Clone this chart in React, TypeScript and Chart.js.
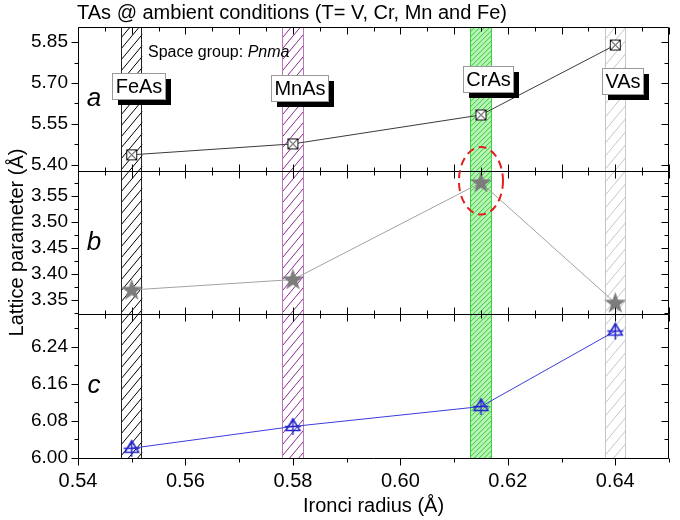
import React, { useEffect, useRef } from 'react';
import { Chart, registerables } from 'chart.js';

Chart.register(...registerables);

const FONT = '"Liberation Sans", Arial, sans-serif';

// ---- data ----
const compounds = ['FeAs', 'MnAs', 'CrAs', 'VAs'];
const ionicRadius = [0.55, 0.58, 0.615, 0.64];
const latticeA = [5.437, 5.477, 5.583, 5.839];
const latticeB = [3.369, 3.389, 3.576, 3.344];
const latticeC = [6.021, 6.068, 6.111, 6.274];

// ---- tick labels ----
const xTicks = [0.54, 0.56, 0.58, 0.6, 0.62, 0.64];
const aTicks = [5.4, 5.55, 5.7, 5.85];
const bTicks = [3.35, 3.4, 3.45, 3.5, 3.55];
const cTicks = [6.0, 6.08, 6.16, 6.24];

// ---- annotations ----
const labelLevelA = [5.689, 5.68, 5.716, 5.709];
const bandHalfWidth = 0.002;
const highlightX = 0.615;
const highlightY = 3.5794;
const highlightRx = 0.0041;
const highlightRy = 0.065;

const bandStyles = [
  { line: '#000000', edge: '#222222', fill: '', gap: 11, slope: 1.2 },
  { line: '#8a2a8a', edge: '#b877b8', fill: '', gap: 11, slope: 1.2 },
  { line: '#36c836', edge: '#3cd03c', fill: '#b8f4b8', gap: 5, slope: 1.0 },
  { line: '#c6c6c6', edge: '#c6c6c6', fill: '', gap: 13, slope: 1.2 },
];

function makeCanvas(w: number, h: number, draw: (c: CanvasRenderingContext2D) => void) {
  const cv = document.createElement('canvas');
  cv.width = w;
  cv.height = h;
  const c = cv.getContext('2d')!;
  draw(c);
  return cv;
}

const crossSquare = makeCanvas(13, 13, (c) => {
  c.fillStyle = '#fff';
  c.fillRect(1, 1, 11, 11);
  c.strokeStyle = '#111';
  c.lineWidth = 1;
  c.strokeRect(1.5, 1.5, 10, 10);
  c.beginPath();
  c.moveTo(1.5, 1.5);
  c.lineTo(11.5, 11.5);
  c.moveTo(11.5, 1.5);
  c.lineTo(1.5, 11.5);
  c.stroke();
});

const filledStar = makeCanvas(25, 25, (c) => {
  c.fillStyle = '#7c7c7c';
  c.beginPath();
  const R = 11.5, r = 4.6, cx = 12.5, cy = 13;
  for (let i = 0; i < 10; i++) {
    const ang = -Math.PI / 2 + (i * Math.PI) / 5;
    const rad = i % 2 === 0 ? R : r;
    const px = cx + rad * Math.cos(ang);
    const py = cy + rad * Math.sin(ang);
    if (i === 0) c.moveTo(px, py);
    else c.lineTo(px, py);
  }
  c.closePath();
  c.fill();
});

const triCross = makeCanvas(21, 21, (c) => {
  c.strokeStyle = '#2424cc';
  c.lineWidth = 1.5;
  c.beginPath();
  c.moveTo(10.5, 3);
  c.lineTo(17.5, 14.5);
  c.lineTo(3.5, 14.5);
  c.closePath();
  c.stroke();
  c.beginPath();
  c.moveTo(10.5, 2.5);
  c.lineTo(10.5, 19);
  c.moveTo(2.5, 10.5);
  c.lineTo(18.5, 10.5);
  c.stroke();
});

const panelIds = ['ya', 'yb', 'yc'];
const panelTicks = [aTicks, bTicks, cTicks];

const decor = {
  id: 'decor',
  beforeDatasetsDraw(chart: any) {
    const { ctx, chartArea } = chart;
    const xs = chart.scales.x;
    const top = chartArea.top;
    const bot = chartArea.bottom;
    compounds.forEach((_, i) => {
      const st = bandStyles[i];
      const x0 = xs.getPixelForValue(ionicRadius[i] - bandHalfWidth);
      const x1 = xs.getPixelForValue(ionicRadius[i] + bandHalfWidth);
      const w = x1 - x0;
      ctx.save();
      ctx.beginPath();
      ctx.rect(x0, top, w, bot - top);
      ctx.clip();
      if (st.fill) {
        ctx.fillStyle = st.fill;
        ctx.fillRect(x0, top, w, bot - top);
      }
      ctx.strokeStyle = st.line;
      ctx.lineWidth = 1;
      ctx.beginPath();
      const rise = w * st.slope;
      for (let y = top; y < bot + rise; y += st.gap) {
        ctx.moveTo(x0, y);
        ctx.lineTo(x1, y - rise);
      }
      ctx.stroke();
      ctx.restore();
      ctx.save();
      ctx.strokeStyle = st.edge;
      ctx.lineWidth = 1;
      ctx.beginPath();
      ctx.moveTo(Math.round(x0) + 0.5, top);
      ctx.lineTo(Math.round(x0) + 0.5, bot);
      ctx.moveTo(Math.round(x1) - 0.5, top);
      ctx.lineTo(Math.round(x1) - 0.5, bot);
      ctx.stroke();
      ctx.restore();
    });
  },
  afterDatasetsDraw(chart: any) {
    const { ctx, chartArea } = chart;
    const xs = chart.scales.x;
    const L = Math.round(chartArea.left) + 0.5;
    const R = Math.round(chartArea.right) - 0.5;
    ctx.save();
    ctx.strokeStyle = '#000';
    ctx.lineWidth = 1;
    panelIds.forEach((id, k) => {
      const s = chart.scales[id];
      const T = Math.round(s.top) + 0.5;
      const B = Math.round(s.bottom) + 0.5;
      ctx.beginPath();
      ctx.rect(L, T, R - L, B - T);
      const tks = panelTicks[k];
      const step = tks[1] - tks[0];
      const half = step / 2;
      let v = tks[0] - half * Math.floor((tks[0] - s.min) / half + 1e-9);
      for (let n = 0; v <= s.max + 1e-9 && n < 100; n++, v += half) {
        if (v < s.min - 1e-9) continue;
        const isMajor = tks.some((t) => Math.abs(t - v) < step * 0.01);
        const len = isMajor ? 7 : 4;
        const py = Math.round(s.getPixelForValue(v)) + 0.5;
        ctx.moveTo(L - len, py);
        ctx.lineTo(L, py);
        ctx.moveTo(R, py);
        ctx.lineTo(R - len, py);
      }
      for (let i = 0; i <= 22; i++) {
        const xv = 0.54 + i * 0.005;
        const px = Math.round(xs.getPixelForValue(xv)) + 0.5;
        const len = i % 2 === 0 ? 7 : 4;
        ctx.moveTo(px, T);
        ctx.lineTo(px, T + len);
        if (k < 2) {
          ctx.moveTo(px, B);
          ctx.lineTo(px, B - len);
        }
      }
      if (k === 2) {
        for (let i = 0; i <= 11; i++) {
          const xv = 0.54 + i * 0.01;
          const px = Math.round(xs.getPixelForValue(xv)) + 0.5;
          const len = i % 2 === 0 ? 7 : 4;
          ctx.moveTo(px, B);
          ctx.lineTo(px, B + len);
        }
      }
      ctx.stroke();
    });
    ctx.restore();

    const ya = chart.scales.ya;
    ctx.save();
    ctx.font = `20px ${FONT}`;
    compounds.forEach((name, i) => {
      const cx = xs.getPixelForValue(ionicRadius[i]) + 7;
      const cy = ya.getPixelForValue(labelLevelA[i]);
      const tw = ctx.measureText(name).width;
      const bw = Math.round(tw + 6);
      const bh = 26;
      const bx = Math.round(cx - bw / 2);
      const by = Math.round(cy - bh / 2);
      ctx.fillStyle = '#000';
      ctx.fillRect(bx + 6, by + 6, bw, bh);
      ctx.fillStyle = '#fff';
      ctx.fillRect(bx, by, bw, bh);
      ctx.strokeStyle = '#9a9a9a';
      ctx.lineWidth = 1;
      ctx.strokeRect(bx + 0.5, by + 0.5, bw, bh);
      ctx.fillStyle = '#000';
      ctx.textAlign = 'center';
      ctx.textBaseline = 'middle';
      ctx.fillText(name, bx + bw / 2 + 0.5, by + bh / 2 + 1);
    });
    ctx.restore();

    const yb = chart.scales.yb;
    const ecx = xs.getPixelForValue(highlightX);
    const ecy = yb.getPixelForValue(highlightY);
    const erx = xs.getPixelForValue(highlightX + highlightRx) - ecx;
    const ery = yb.getPixelForValue(highlightY - highlightRy) - ecy;
    ctx.save();
    ctx.strokeStyle = '#e01e1e';
    ctx.lineWidth = 2;
    ctx.setLineDash([8, 5]);
    ctx.beginPath();
    ctx.ellipse(ecx, ecy, Math.abs(erx), Math.abs(ery), 0, 0, Math.PI * 2);
    ctx.stroke();
    ctx.restore();
  },
  afterDraw(chart: any) {
    const { ctx, chartArea } = chart;
    const L = chartArea.left;
    ctx.save();
    ctx.fillStyle = '#000';
    ctx.textAlign = 'left';
    ctx.textBaseline = 'alphabetic';
    ctx.font = `20px ${FONT}`;
    ctx.fillText('TAs @ ambient conditions (T= V, Cr, Mn and Fe)', L - 1, 19);

    const ya = chart.scales.ya;
    ctx.font = `16px ${FONT}`;
    ctx.textBaseline = 'middle';
    const sg = 'Space group: ';
    const sx = L + 70;
    const sy = ya.top + 26;
    ctx.fillText(sg, sx, sy);
    const sw = ctx.measureText(sg).width;
    ctx.font = `italic 16px ${FONT}`;
    ctx.fillText('Pnma', sx + sw, sy);

    ctx.font = `italic 26px ${FONT}`;
    ctx.textAlign = 'center';
    ['a', 'b', 'c'].forEach((letter, k) => {
      const s = chart.scales[panelIds[k]];
      ctx.fillText(letter, L + 16, (s.top + s.bottom) / 2);
    });
    ctx.restore();
  },
};

function yScale(min: number, max: number, tks: number[], weight: number, title?: string) {
  return {
    type: 'linear',
    position: 'left',
    stack: 'panels',
    stackWeight: 1,
    weight,
    min,
    max,
    afterBuildTicks: (s: any) => {
      s.ticks = tks.map((v) => ({ value: v }));
    },
    afterFit: (s: any) => {
      s.width = 78;
    },
    ticks: {
      font: { size: 19, family: FONT },
      color: '#000',
      padding: 3,
      autoSkip: false,
      callback: (v: any) => Number(v).toFixed(2),
    },
    grid: { display: false, drawTicks: true, tickLength: 7 },
    border: { display: false },
    title: title
      ? {
          display: true,
          text: title,
          font: { size: 20, family: FONT },
          color: '#000',
          padding: { top: 5, bottom: 0 },
        }
      : { display: false },
  };
}

export default function App() {
  const ref = useRef<HTMLCanvasElement | null>(null);
  useEffect(() => {
    if (!ref.current) return;
    const mk = (ys: number[]) => ionicRadius.map((x, i) => ({ x, y: ys[i] }));
    const chart = new Chart(ref.current, {
      type: 'scatter',
      data: {
        datasets: [
          {
            data: mk(latticeA),
            yAxisID: 'ya',
            showLine: true,
            borderColor: '#3a3a3a',
            borderWidth: 1,
            pointStyle: crossSquare as any,
            pointRadius: 6,
          },
          {
            data: mk(latticeB),
            yAxisID: 'yb',
            showLine: true,
            borderColor: '#a2a2a2',
            borderWidth: 1,
            pointStyle: filledStar as any,
            pointRadius: 10,
          },
          {
            data: mk(latticeC),
            yAxisID: 'yc',
            showLine: true,
            borderColor: '#3c3cdc',
            borderWidth: 1,
            pointStyle: triCross as any,
            pointRadius: 9,
          },
        ],
      },
      options: {
        responsive: false,
        animation: false,
        devicePixelRatio: 1,
        layout: { padding: { left: 0, right: 3, top: 27, bottom: 0 } },
        plugins: { legend: { display: false }, tooltip: { enabled: false }, title: { display: false } },
        scales: {
          x: {
            type: 'linear',
            position: 'bottom',
            min: 0.54,
            max: 0.65,
            afterBuildTicks: (s: any) => {
              s.ticks = xTicks.map((v) => ({ value: v }));
            },
            afterFit: (s: any) => {
              s.height = 62;
            },
            ticks: {
              font: { size: 20, family: FONT },
              color: '#000',
              padding: 4,
              maxRotation: 0,
              autoSkip: false,
              callback: (v: any) => Number(v).toFixed(2),
            },
            grid: { display: false, drawTicks: true, tickLength: 7 },
            border: { display: false },
            title: {
              display: true,
              text: 'Ironci radius (Å)',
              font: { size: 20, family: FONT },
              color: '#000',
              padding: { top: 0, bottom: 2 },
            },
          },
          ya: yScale(5.379, 5.905, aTicks, 3),
          yb: yScale(3.322, 3.599, bTicks, 2, 'Lattice parameter (Å)'),
          yc: yScale(6.0, 6.31, cTicks, 1),
        } as any,
      },
      plugins: [decor],
    } as any);
    return () => chart.destroy();
  }, []);
  return (
    <div style={{ position: 'fixed', left: 0, top: 0, width: 680, height: 520, background: '#fff' }}>
      <canvas ref={ref} width={680} height={520} style={{ width: 680, height: 520 }} />
    </div>
  );
}
